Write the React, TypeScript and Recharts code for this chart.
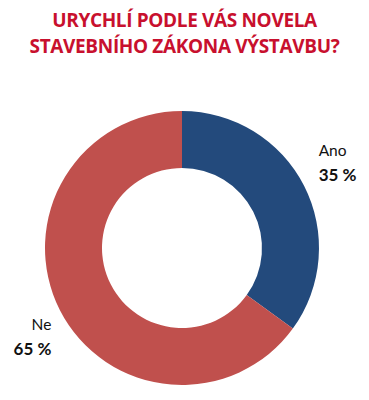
import React from 'react';
import { PieChart, Pie, Cell } from 'recharts';

const categories = ['Ano', 'Ne'];
const values = [35, 65];
const colors = ['#234a7c', '#c0504d'];
const titleLines = ['URYCHLÍ PODLE VÁS NOVELA', 'STAVEBNÍHO ZÁKONA VÝSTAVBU?'];

const data = categories.map((name, i) => ({ name, value: values[i] }));

const RAD = Math.PI / 180;

const renderLabel = (props: any) => {
  const { cx, cy, midAngle, outerRadius, index } = props;
  const r = outerRadius + 13;
  const x = cx + r * Math.cos(-midAngle * RAD) + 3;
  const y = cy + r * Math.sin(-midAngle * RAD);
  const right = x > cx;
  const anchor = right ? 'start' : 'end';
  const base = y < cy ? y - 24 : y + 14;
  return (
    <g>
      <text x={x} y={base} textAnchor={anchor} fontFamily="Lato, 'Open Sans', sans-serif" fontSize={15.5} fill="#111">
        {categories[index]}
      </text>
      <text x={x} y={base + 25} textAnchor={anchor} fontFamily="Lato, 'Open Sans', sans-serif" fontSize={17} fontWeight={700} fill="#111">
        {`${values[index]} %`}
      </text>
    </g>
  );
};

export default function App() {
  return (
    <div style={{ position: 'absolute', left: 0, top: 0, width: 369, height: 400, background: '#fff' }}>
      <div
        style={{
          position: 'absolute',
          left: 0,
          top: 7,
          width: 369,
          textAlign: 'center',
          fontFamily: "'Open Sans', sans-serif",
          fontWeight: 700,
          fontSize: 19,
          lineHeight: '26px',
          color: '#c8102e',
          letterSpacing: -0.35,
        }}
      >
        {titleLines.map((l) => (
          <div key={l}>{l}</div>
        ))}
      </div>
      <div style={{ position: 'absolute', left: 0, top: 0 }}>
        <PieChart width={369} height={400} margin={{ top: 0, right: 0, bottom: 0, left: 0 }}>
          <Pie
            data={data}
            dataKey="value"
            nameKey="name"
            cx={182}
            cy={248}
            innerRadius={80}
            outerRadius={137}
            startAngle={90}
            endAngle={-270}
            stroke="none"
            label={renderLabel}
            labelLine={false}
            isAnimationActive={false}
          >
            {data.map((d, i) => (
              <Cell key={d.name} fill={colors[i]} />
            ))}
          </Pie>
        </PieChart>
      </div>
    </div>
  );
}
